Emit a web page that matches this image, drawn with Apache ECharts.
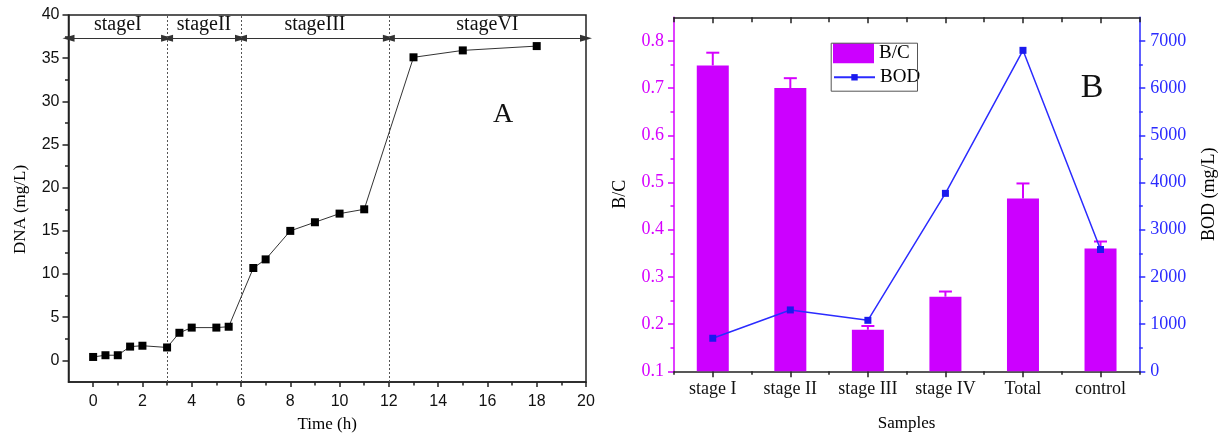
<!DOCTYPE html>
<html>
<head>
<meta charset="utf-8">
<script src="https://cdn.jsdelivr.net/npm/echarts@6/dist/echarts.min.js"></script>
<style>
html,body{margin:0;padding:0;background:#fff;}
#c{width:1223px;height:436px;}
</style>
</head>
<body>
<div id="c"></div>
<script>
// ---------- Panel A data ----------
const timeH = [0, 0.5, 1, 1.5, 2, 3, 3.5, 4, 5, 5.5, 6.5, 7, 8, 9, 10, 11, 13, 15, 18];
const dnaMgL = [0.4, 0.6, 0.6, 1.6, 1.7, 1.5, 3.2, 3.8, 3.8, 3.9, 10.7, 11.7, 15.0, 16.0, 17.0, 17.5, 35.1, 35.9, 36.4];
const stageBounds = [-1, 3, 6, 12, 20];
const stageNames = ['stageI', 'stageII', 'stageIII', 'stageVI'];
const stageArrowY = 37.3;
const stageDividers = [3, 6, 12];
const aXMajor = [0, 2, 4, 6, 8, 10, 12, 14, 16, 18, 20];
const aXMinor = [1, 3, 5, 7, 9, 11, 13, 15, 17, 19];
const aYMajor = [0, 5, 10, 15, 20, 25, 30, 35, 40];
const aYMinor = [2.5, 7.5, 12.5, 17.5, 22.5, 27.5, 32.5, 37.5];

// ---------- Panel B data ----------
const samples = ['stage I', 'stage II', 'stage III', 'stage IV', 'Total', 'control'];
const bcRatio = [0.748, 0.700, 0.188, 0.258, 0.466, 0.360];
const bcErr = [0.027, 0.021, 0.008, 0.011, 0.032, 0.015];
const bodMgL = [700, 1300, 1080, 3770, 6800, 2580];
const bLeftMajor = [0.1, 0.2, 0.3, 0.4, 0.5, 0.6, 0.7, 0.8];
const bLeftMinor = [0.15, 0.25, 0.35, 0.45, 0.55, 0.65, 0.75];
const bRightMajor = [0, 1000, 2000, 3000, 4000, 5000, 6000, 7000];
const bRightMinor = [500, 1500, 2500, 3500, 4500, 5500, 6500];

const SERIF = '"Liberation Serif", "Times New Roman", serif';
const SANS = '"Liberation Sans", Arial, sans-serif';
const MAG = '#cc00ff';
const MAGTXT = '#d600ff';
const BLUE = '#2b2bff';
const AX = '#222';

const chart = echarts.init(document.getElementById('c'), null, {renderer: 'canvas'});

const arrowData = stageNames.map((n, i) => [
  {coord: [stageBounds[i], stageArrowY], name: n},
  {coord: [stageBounds[i + 1], stageArrowY]}
]);

const option = {
  animation: false,
  backgroundColor: '#fff',
  grid: [
    {left: 68.5, top: 15, width: 517.5, height: 367, outerBoundsMode: 'none', containLabel: false,
     show: true, borderColor: AX, borderWidth: 1.5, backgroundColor: 'transparent'},
    {left: 674, top: 17.3, width: 465.3, height: 354, outerBoundsMode: 'none', containLabel: false}
  ],
  legend: [
    {data: [{name: 'B/C', icon: 'rect'}], left: 833, top: 43.3, orient: 'vertical', padding: 0, itemWidth: 41, itemHeight: 20, itemGap: 0,
     textStyle: {fontFamily: SERIF, fontSize: 19, color: '#000', lineHeight: 20}},
    {data: ['BOD'], left: 833, top: 67.3, orient: 'vertical', padding: 0, itemWidth: 41, itemHeight: 8, itemGap: 0,
     textStyle: {fontFamily: SERIF, fontSize: 19, color: '#000', lineHeight: 20}}
  ],
  xAxis: [
    // A bottom (labels + major ticks)
    {type: 'value', gridIndex: 0, min: -1, max: 20, position: 'bottom',
     name: 'Time (h)', nameLocation: 'middle', nameGap: 34,
     nameTextStyle: {fontFamily: SERIF, fontSize: 17, color: '#000'},
     axisLine: {show: true, onZero: false, lineStyle: {color: AX, width: 1.5}},
     axisTick: {show: true, length: 5, customValues: aXMajor, lineStyle: {color: AX, width: 1.5}},
     axisLabel: {customValues: aXMajor, fontFamily: SANS, fontSize: 16, color: '#111', margin: 12},
     splitLine: {show: false}},
    // A bottom minor ticks
    {type: 'value', gridIndex: 0, min: -1, max: 20, position: 'bottom',
     axisLine: {show: false, onZero: false},
     axisTick: {show: true, length: 3.5, customValues: aXMinor, lineStyle: {color: AX, width: 1.5}},
     axisLabel: {show: false}, splitLine: {show: false}},
    // B bottom category (labels + center ticks)
    {type: 'category', gridIndex: 1, data: samples, position: 'bottom',
     name: 'Samples', nameLocation: 'middle', nameGap: 44,
     nameTextStyle: {fontFamily: SERIF, fontSize: 17, color: '#000'},
     axisLine: {show: true, onZero: false, lineStyle: {color: AX, width: 1.5}},
     axisTick: {show: true, alignWithLabel: true, length: 6, lineStyle: {color: AX, width: 1.5}},
     axisLabel: {interval: 0, fontFamily: SERIF, fontSize: 18, color: '#111', margin: 9}},
    // B bottom boundary ticks
    {type: 'category', gridIndex: 1, data: samples, position: 'bottom',
     axisLine: {show: false, onZero: false},
     axisTick: {show: true, interval: 0, alignWithLabel: false, length: 3.5, lineStyle: {color: AX, width: 1.5}},
     axisLabel: {show: false}},
    // B top boundary ticks
    {type: 'category', gridIndex: 1, data: samples, position: 'top',
     axisLine: {show: true, onZero: false, lineStyle: {color: AX, width: 1.5}},
     axisTick: {show: true, interval: 0, inside: true, alignWithLabel: false, length: 5, lineStyle: {color: AX, width: 1.5}},
     axisLabel: {show: false}},
    // B top center ticks
    {type: 'category', gridIndex: 1, data: samples, position: 'top',
     axisLine: {show: false, onZero: false},
     axisTick: {show: true, interval: 0, inside: true, alignWithLabel: true, length: 6, lineStyle: {color: AX, width: 1.5}},
     axisLabel: {show: false}}
  ],
  yAxis: [
    // A left
    {type: 'value', gridIndex: 0, min: -2.5, max: 40, position: 'left',
     name: 'DNA (mg/L)', nameLocation: 'middle', nameGap: 39, nameRotate: 90,
     nameTextStyle: {fontFamily: SERIF, fontSize: 17, color: '#000', padding: [0, 22, 0, 0]},
     axisLine: {show: true, onZero: false, lineStyle: {color: AX, width: 1.5}},
     axisTick: {show: true, length: 6, customValues: aYMajor, lineStyle: {color: AX, width: 1.5}},
     axisLabel: {customValues: aYMajor, fontFamily: SANS, fontSize: 16, color: '#111', margin: 9},
     splitLine: {show: false}},
    {type: 'value', gridIndex: 0, min: -2.5, max: 40, position: 'left',
     axisLine: {show: false, onZero: false},
     axisTick: {show: true, length: 3.5, customValues: aYMinor, lineStyle: {color: AX, width: 1.5}},
     axisLabel: {show: false}, splitLine: {show: false}},
    // B left (B/C)
    {type: 'value', gridIndex: 1, min: 0.1, max: 0.85, position: 'left',
     name: 'B/C', nameLocation: 'middle', nameGap: 45, nameRotate: 90,
     nameTextStyle: {fontFamily: SERIF, fontSize: 18, color: '#000'},
     axisLine: {show: true, onZero: false, lineStyle: {color: MAGTXT, width: 1.5}},
     axisTick: {show: true, length: 6, customValues: bLeftMajor, lineStyle: {color: MAGTXT, width: 1.5}},
     axisLabel: {customValues: bLeftMajor, formatter: v => v.toFixed(1), fontFamily: SERIF, fontSize: 18, color: MAGTXT, margin: 10},
     splitLine: {show: false}},
    {type: 'value', gridIndex: 1, min: 0.1, max: 0.85, position: 'left',
     axisLine: {show: false, onZero: false},
     axisTick: {show: true, length: 3.5, customValues: bLeftMinor, lineStyle: {color: MAGTXT, width: 1.5}},
     axisLabel: {show: false}, splitLine: {show: false}},
    // B right (BOD)
    {type: 'value', gridIndex: 1, min: 0, max: 7500, position: 'right',
     name: 'BOD (mg/L)', nameLocation: 'middle', nameGap: 61, nameRotate: 90,
     nameTextStyle: {fontFamily: SERIF, fontSize: 18, color: '#000'},
     axisLine: {show: true, onZero: false, lineStyle: {color: BLUE, width: 1.5}},
     axisTick: {show: true, length: 6, customValues: bRightMajor, lineStyle: {color: BLUE, width: 1.5}},
     axisLabel: {customValues: bRightMajor, formatter: v => String(v), fontFamily: SERIF, fontSize: 18, color: BLUE, margin: 11},
     splitLine: {show: false}},
    {type: 'value', gridIndex: 1, min: 0, max: 7500, position: 'right',
     axisLine: {show: false, onZero: false},
     axisTick: {show: true, length: 3.5, customValues: bRightMinor, lineStyle: {color: BLUE, width: 1.5}},
     axisLabel: {show: false}, splitLine: {show: false}}
  ],
  series: [
    {
      name: 'DNA', type: 'line', xAxisIndex: 0, yAxisIndex: 0,
      data: timeH.map((t, i) => [t, dnaMgL[i]]),
      symbol: 'rect', symbolSize: 8,
      itemStyle: {color: '#000'},
      lineStyle: {color: '#333', width: 1},
      z: 5,
      markLine: {
        silent: true, animation: false,
        symbol: ['triangle', 'triangle'], symbolSize: [7, 12],
        lineStyle: {color: '#333', width: 1.2, type: 'solid'},
        label: {show: true, position: 'insideMiddleTop', formatter: '{b}', distance: 4,
                fontFamily: SERIF, fontSize: 20, color: '#111'},
        data: arrowData
      }
    },
    {
      name: 'dividers', type: 'line', xAxisIndex: 0, yAxisIndex: 0, data: [],
      markLine: {
        silent: true, animation: false, symbol: ['none', 'none'],
        lineStyle: {color: '#555', width: 1, type: [2, 2]},
        label: {show: false},
        data: stageDividers.map(x => ({xAxis: x}))
      }
    },
    {
      name: 'B/C', type: 'bar', xAxisIndex: 2, yAxisIndex: 2,
      data: bcRatio, barWidth: 32,
      itemStyle: {color: MAG}, z: 2
    },
    {
      name: 'B/C err', type: 'custom', xAxisIndex: 2, yAxisIndex: 2,
      data: bcRatio.map((v, i) => [i, v, bcErr[i]]),
      z: 3, silent: true,
      renderItem: function (params, api) {
        const i = api.value(0), v = api.value(1), e = api.value(2);
        const p0 = api.coord([i, v]);
        const p1 = api.coord([i, v + e]);
        const half = 6.5;
        return {type: 'group', children: [
          {type: 'line', shape: {x1: p0[0], y1: p0[1], x2: p1[0], y2: p1[1]}, style: {stroke: MAGTXT, lineWidth: 2}},
          {type: 'line', shape: {x1: p1[0] - half, y1: p1[1], x2: p1[0] + half, y2: p1[1]}, style: {stroke: MAGTXT, lineWidth: 2}}
        ]};
      }
    },
    {
      name: 'BOD', type: 'line', xAxisIndex: 2, yAxisIndex: 4,
      data: bodMgL, symbol: 'rect', symbolSize: 7,
      itemStyle: {color: '#1a1aee'},
      lineStyle: {color: BLUE, width: 1.5},
      z: 6
    }
  ],
  graphic: [
    {type: 'rect', left: 828.7, top: 40.7, shape: {width: 86.3, height: 48}, style: {fill: 'none', stroke: '#555', lineWidth: 1}, z: 10, silent: true},
    {type: 'text', x: 503, y: 115, style: {text: 'A', font: '28px ' + SERIF, fill: '#111', align: 'center', verticalAlign: 'middle'}, z: 10},
    {type: 'text', x: 1092, y: 88, style: {text: 'B', font: '34px ' + SERIF, fill: '#111', align: 'center', verticalAlign: 'middle'}, z: 10}
  ]
};
chart.setOption(option);
</script>
</body>
</html>
